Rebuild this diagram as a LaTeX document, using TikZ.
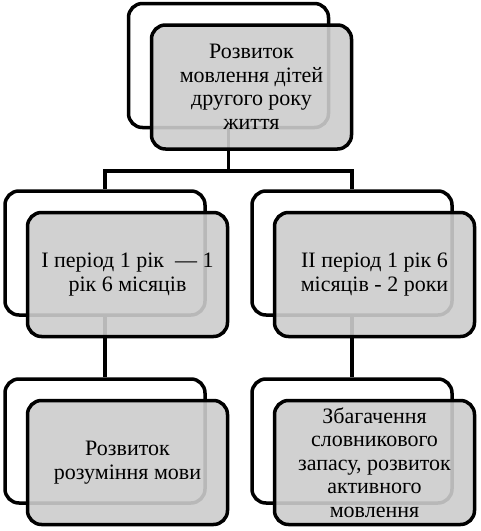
\documentclass[tikz,border=0pt]{standalone}
\usepackage{fontspec}
\setmainfont{Liberation Serif}
\usetikzlibrary{positioning,calc}
\tikzset{
  hat/.style={draw,line width=3.5pt,rounded corners=14pt,minimum width=200pt,minimum height=124pt,inner sep=0pt},
  elo/.style={hat,fill=black!20,fill opacity=0.9,text opacity=1,align=center,font=\fontsize{22}{23.5}\selectfont},
  vonal/.style={line width=3.5pt},
}
\begin{document}
\begin{tikzpicture}[x=1pt,y=1pt]
  \useasboundingbox (0,0) rectangle (481,-531);
  \node[hat] (b0) at (228.5,-65.5) {}; \node[hat] (b1) at (105,-253) {}; \node[hat] (b2) at (352,-253) {};
  \node[hat] (b3) at (105,-441) {}; \node[hat] (b4) at (352,-441) {};
  \coordinate (j) at (228.5,-171);
  \draw[vonal] (b0.south) -- (j) -| (b1.north);
  \draw[vonal] (j) -| (b2.north);
  \draw[vonal] (b1.south) -- (b3.north);
  \draw[vonal] (b2.south) -- (b4.north);
  \node[elo] (f0) at ($(b0)+(23,-21.5)$) {Розвиток\\мовлення дітей\\другого року\\життя};
  \node[elo] (f1) at ($(b1)+(22.5,-21.5)$) {І період 1 рік~ — 1\\рік 6 місяців};
  \node[elo] (f2) at ($(b2)+(22.5,-21.5)$) {ІІ період 1 рік 6\\місяців - 2 роки};
  \node[elo] (f3) at ($(b3)+(22.5,-21.5)$) {Розвиток\\розуміння мови};
  \node[elo] (f4) at ($(b4)+(22.5,-21.5)$) {Збагачення\\словникового\\запасу, розвиток\\активного\\мовлення};
\end{tikzpicture}
\end{document}
